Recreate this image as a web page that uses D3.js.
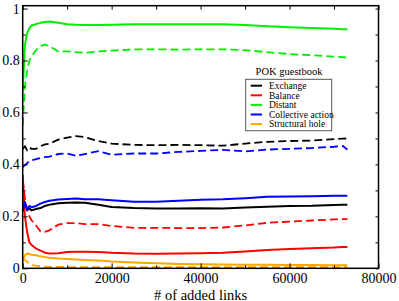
<!DOCTYPE html>
<html>
<head>
<meta charset="utf-8">
<script src="https://cdnjs.cloudflare.com/ajax/libs/d3/7.8.5/d3.min.js"></script>
<style>
    body { margin:0; background:#fff; }
</style>
</head>
<body>
<div id="chartCont"></div>
<script>
// number of added links (shared x grid for every series)
var links = [0, 500, 1000, 1500, 2000, 3000, 4000, 5000, 6000, 8000, 10000, 12000, 14000, 17000,
    20000, 25000, 30000, 35000, 40000, 45000, 50000, 55000, 60000, 65000, 70000, 72000, 73000];

var exchange = [0.22, 0.245, 0.225, 0.23, 0.223, 0.228, 0.232, 0.24, 0.245, 0.25, 0.252, 0.253, 0.252, 0.245,
    0.236, 0.232, 0.23, 0.23, 0.231, 0.23, 0.234, 0.237, 0.24, 0.241, 0.244, 0.245, 0.245];
var exchangeD = [0.46, 0.47, 0.455, 0.465, 0.46, 0.46, 0.47, 0.477, 0.48, 0.495, 0.503, 0.509, 0.505, 0.49,
    0.48, 0.475, 0.474, 0.475, 0.474, 0.472, 0.48, 0.487, 0.49, 0.492, 0.497, 0.499, 0.5];

var balance = [0.36, 0.2, 0.14, 0.1, 0.09, 0.076, 0.068, 0.06, 0.057, 0.058, 0.063, 0.064, 0.064, 0.063,
    0.06, 0.057, 0.056, 0.057, 0.058, 0.06, 0.065, 0.07, 0.074, 0.077, 0.08, 0.082, 0.082];
var balanceD = [0.34, 0.27, 0.224, 0.2, 0.185, 0.165, 0.142, 0.14, 0.146, 0.168, 0.174, 0.174, 0.17, 0.17,
    0.163, 0.156, 0.156, 0.155, 0.155, 0.157, 0.165, 0.175, 0.18, 0.184, 0.188, 0.189, 0.189];

var distant = [0.68, 0.86, 0.905, 0.925, 0.935, 0.94, 0.945, 0.948, 0.95, 0.945, 0.94, 0.938, 0.937, 0.937,
    0.938, 0.94, 0.94, 0.94, 0.94, 0.94, 0.937, 0.932, 0.928, 0.925, 0.922, 0.92, 0.92];
var distantD = [0.55, 0.7, 0.76, 0.8, 0.815, 0.84, 0.855, 0.862, 0.855, 0.835, 0.835, 0.832, 0.83, 0.835,
    0.838, 0.843, 0.843, 0.842, 0.843, 0.843, 0.84, 0.832, 0.825, 0.82, 0.815, 0.813, 0.812];

var collective = [0.22, 0.255, 0.225, 0.24, 0.235, 0.24, 0.249, 0.255, 0.26, 0.265, 0.267, 0.269, 0.266, 0.266,
    0.262, 0.256, 0.256, 0.26, 0.264, 0.266, 0.27, 0.275, 0.276, 0.277, 0.279, 0.279, 0.279];
var collectiveD = [0.39, 0.397, 0.405, 0.412, 0.416, 0.42, 0.425, 0.428, 0.43, 0.44, 0.442, 0.433, 0.44, 0.451,
    0.437, 0.442, 0.442, 0.448, 0.452, 0.456, 0.45, 0.457, 0.46, 0.463, 0.468, 0.471, 0.457];

var structural = [0.03, 0.05, 0.057, 0.055, 0.052, 0.05, 0.046, 0.043, 0.041, 0.038, 0.036, 0.034, 0.032, 0.03,
    0.026, 0.022, 0.019, 0.017, 0.016, 0.015, 0.014, 0.014, 0.013, 0.013, 0.012, 0.012, 0.012];
var structuralD = [0.04, 0.031, 0.025, 0.018, 0.013, 0.01, 0.007, 0.006, 0.005, 0.005, 0.005, 0.004, 0.004, 0.004,
    0.004, 0.004, 0.004, 0.004, 0.004, 0.004, 0.004, 0.004, 0.004, 0.004, 0.004, 0.004, 0.004];

var names = ['Exchange', 'Balance', 'Distant', 'Collective action', 'Structural hole'];
var colors = ['#000000', '#ff0000', '#00ee00', '#0000ff', '#ffa500'];
var solidSeries = [exchange, balance, distant, collective, structural];
var dashedSeries = [exchangeD, balanceD, distantD, collectiveD, structuralD];

var xTicks = [0, 20000, 40000, 60000, 80000];
var xMinor = [10000, 30000, 50000, 70000];
var yTicks = [0, 0.2, 0.4, 0.6, 0.8, 1];
var yMinor = [0.1, 0.3, 0.5, 0.7, 0.9];
var legendTitle = 'POK guestbook';
var xLabel = '# of added links';

var W = 399, H = 301;
var box = {left:22.7, right:378.5, top:5.7, bottom:268.3};
var serif = '"Liberation Serif", Tinos, "Times New Roman", serif';

var svg = d3.select('#chartCont')
    .append('svg')
    .attr('width', W)
    .attr('height', H);

var x = d3.scaleLinear()
    .domain([0, 80000])
    .range([box.left, box.right]);

var y = d3.scaleLinear()
    .domain([0, 1.011])
    .range([box.bottom, box.top]);

svg.append('clipPath')
    .attr('id', 'plotClip')
    .append('rect')
    .attr('x', box.left)
    .attr('y', box.top)
    .attr('width', box.right - box.left)
    .attr('height', box.bottom - box.top);

var line = d3.line()
    .x(function(d, i) { return x(links[i]); })
    .y(function(d) { return y(d); });

var lines = svg.append('g').attr('clip-path', 'url(#plotClip)');

// dashed first, solid on top
dashedSeries.forEach(function(s, i) {
    lines.append('path')
        .datum(s)
        .attr('fill', 'none')
        .attr('stroke', colors[i])
        .attr('stroke-width', 1.8)
        .attr('stroke-dasharray', '8,4')
        .attr('d', line);
});
solidSeries.forEach(function(s, i) {
    lines.append('path')
        .datum(s)
        .attr('fill', 'none')
        .attr('stroke', colors[i])
        .attr('stroke-width', 2)
        .attr('stroke-linejoin', 'round')
        .attr('d', line);
});

function yFmt(d) { return String(+d.toFixed(1)); }

// axes, ticks pointing inward
svg.append('g')
    .attr('transform', 'translate(0,' + box.bottom + ')')
    .call(d3.axisBottom(x).tickValues(xTicks).tickFormat(d3.format('d')).tickSize(-5).tickPadding(5))
    .call(function(g) { g.select('.domain').remove(); });
svg.append('g')
    .attr('transform', 'translate(0,' + box.bottom + ')')
    .call(d3.axisBottom(x).tickValues(xMinor).tickFormat('').tickSize(-3))
    .call(function(g) { g.select('.domain').remove(); });

svg.append('g')
    .attr('transform', 'translate(' + box.left + ',0)')
    .call(d3.axisLeft(y).tickValues(yTicks).tickFormat(yFmt).tickSize(-5).tickPadding(3))
    .call(function(g) { g.select('.domain').remove(); });
svg.append('g')
    .attr('transform', 'translate(' + box.left + ',0)')
    .call(d3.axisLeft(y).tickValues(yMinor).tickFormat('').tickSize(-3))
    .call(function(g) { g.select('.domain').remove(); });

svg.append('g')
    .attr('transform', 'translate(0,' + box.top + ')')
    .call(d3.axisTop(x).tickValues(xTicks.concat(xMinor)).tickFormat('').tickSize(-4))
    .call(function(g) { g.select('.domain').remove(); });
svg.append('g')
    .attr('transform', 'translate(' + box.right + ',0)')
    .call(d3.axisRight(y).tickValues(yTicks.concat(yMinor)).tickFormat('').tickSize(-3))
    .call(function(g) { g.select('.domain').remove(); });

svg.selectAll('g.tick text')
    .attr('font-family', serif)
    .attr('font-size', 14);
svg.selectAll('g.tick line')
    .attr('stroke', '#000');

svg.append('rect')
    .attr('x', box.left)
    .attr('y', box.top)
    .attr('width', box.right - box.left)
    .attr('height', box.bottom - box.top)
    .attr('fill', 'none')
    .attr('stroke', '#000')
    .attr('stroke-width', 1.5);

svg.append('text')
    .attr('x', (box.left + box.right) / 2)
    .attr('y', 299.5)
    .attr('text-anchor', 'middle')
    .attr('font-family', serif)
    .attr('font-size', 14.5)
    .text(xLabel);

// legend
var lg = svg.append('g').attr('id', 'legend');
lg.append('text')
    .attr('x', 289)
    .attr('y', 74.5)
    .attr('text-anchor', 'middle')
    .attr('font-family', serif)
    .attr('font-size', 10.5)
    .text(legendTitle);
lg.append('rect')
    .attr('x', 245.7)
    .attr('y', 79.3)
    .attr('width', 86)
    .attr('height', 51.4)
    .attr('fill', '#fff')
    .attr('stroke', '#555')
    .attr('stroke-width', 1);

names.forEach(function(n, i) {
    var g = lg.append('g')
        .attr('transform', 'translate(0,' + (85.7 + i * 9.6) + ')');
    g.append('line')
        .attr('x1', 250.7)
        .attr('x2', 262)
        .attr('y1', 0)
        .attr('y2', 0)
        .attr('stroke', colors[i])
        .attr('stroke-width', 2);
    g.append('text')
        .attr('x', 269)
        .attr('y', 3.2)
        .attr('font-family', serif)
        .attr('font-size', 9.5)
        .text(n);
});
</script>
</body>
</html>
